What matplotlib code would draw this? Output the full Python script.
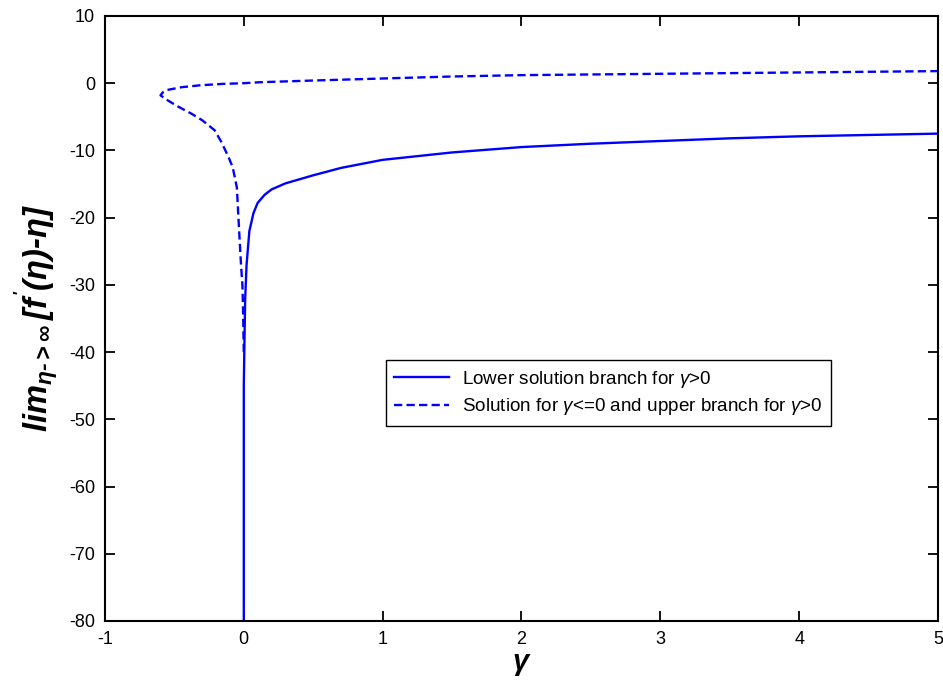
import numpy as np
import matplotlib.pyplot as plt

plt.rcParams['font.family'] = ['Liberation Sans', 'DejaVu Sans']
plt.rcParams['axes.unicode_minus'] = False
plt.rcParams['mathtext.fontset'] = 'custom'
plt.rcParams['mathtext.it'] = 'Liberation Sans:bold:italic'
plt.rcParams['mathtext.rm'] = 'Liberation Sans:bold:italic'
plt.rcParams['mathtext.bf'] = 'Liberation Sans:bold:italic'
plt.rcParams['mathtext.sf'] = 'Liberation Sans:italic'

# lower solution branch (gamma > 0)
gamma_low = [0.0, 0.0, 0.005, 0.01, 0.02, 0.04, 0.07, 0.1, 0.15, 0.2, 0.3, 0.4,
             0.5, 0.7, 1.0, 1.5, 2.0, 2.5, 3.0, 3.5, 4.0, 4.5, 5.0]
lim_low = [-80, -45, -38, -32, -27, -22, -19.3, -17.8, -16.6, -15.8, -14.9, -14.3,
           -13.7, -12.6, -11.4, -10.3, -9.5, -9.0, -8.6, -8.2, -7.9, -7.7, -7.5]

# solution for gamma <= 0 continued into the upper branch
gamma_up = [0.0, -0.005, -0.01, -0.02, -0.035, -0.05, -0.08, -0.11, -0.16, -0.21,
            -0.3, -0.38, -0.48, -0.56, -0.6, -0.58, -0.55, -0.45, -0.31, -0.15,
            0.0, 0.12, 0.5, 1.0, 1.5, 2.0, 3.0, 4.0, 5.0]
lim_up = [-40, -34, -30, -27, -21.4, -15.5, -12.5, -11, -8.8, -7.0,
          -5.5, -4.5, -3.4, -2.4, -1.8, -1.3, -1.0, -0.6, -0.3, -0.1,
          0.0, 0.15, 0.4, 0.7, 1.0, 1.2, 1.4, 1.6, 1.8]

fig = plt.figure(figsize=(9.43, 6.89), dpi=100)
ax = fig.add_axes([0.1113, 0.0987, 0.8834, 0.8781])

ax.plot(gamma_low, lim_low, color='#0000ff', lw=1.7,
        label=r'Lower solution branch for $\mathsf{\gamma}$>0')
ax.plot(gamma_up, lim_up, color='#0000ff', lw=1.7, linestyle='--', dashes=(3.5, 1.8),
        label=r'Solution for $\mathsf{\gamma}$<=0 and upper branch for $\mathsf{\gamma}$>0')

ax.set_xlim(-1, 5)
ax.set_ylim(-80, 10)
ax.set_xticks(np.arange(-1, 6, 1))
ax.set_yticks(np.arange(-80, 11, 10))
ax.tick_params(direction='in', top=True, right=True, length=7, width=1.3,
               labelsize=13, pad=7)
for s in ax.spines.values():
    s.set_linewidth(1.5)

ax.set_xlabel(r'$\gamma$', fontsize=21, labelpad=2)
ax.set_ylabel("$lim_{\\eta\\mathrm{\u2010>}\\infty}\\,[f^{'}(\\eta)\\mathrm{\u2010}\\eta]$",
              fontsize=23.5, labelpad=6)

leg = ax.legend(loc='upper left', bbox_to_anchor=(0.337, 0.431), fontsize=13.6,
                frameon=True, fancybox=False, edgecolor='black', framealpha=1,
                handlelength=2.9, handletextpad=0.7, borderpad=0.45,
                labelspacing=0.35, borderaxespad=0)
leg.get_frame().set_linewidth(1.0)

fig.savefig('out.png', dpi=100)
